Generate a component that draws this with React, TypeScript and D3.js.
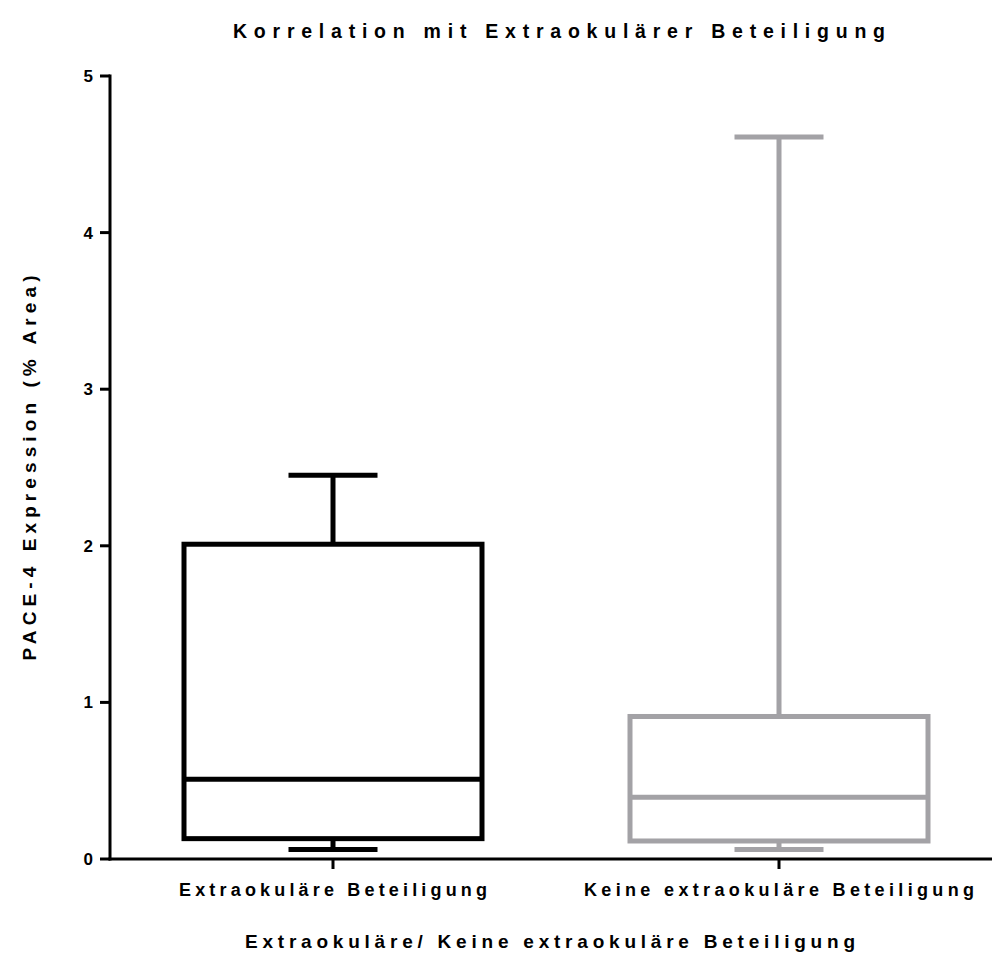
import React from "react";
import * as d3 from "d3";

const categories = ["Extraokuläre Beteiligung", "Keine extraokuläre Beteiligung"];
const minValues = [0.06, 0.06];
const q1Values = [0.13, 0.115];
const medianValues = [0.51, 0.395];
const q3Values = [2.01, 0.91];
const maxValues = [2.45, 4.61];
const colors = ["#000000", "#a3a2a6"];
const yTicks = [0, 1, 2, 3, 4, 5];

const W = 992;
const H = 955;
const font = "'Liberation Sans', Arial, sans-serif";

export default function App() {
  const y = d3.scaleLinear().domain([0, 5]).range([859, 76]);
  const x = d3.scaleBand<string>().domain(categories).range([110, 1002]).padding(0);
  const boxW = 298;
  const capW = 89;
  const sw = 5;
  return (
    <svg width={W} height={H} style={{ position: "absolute", left: 0, top: 0, background: "#fff" }}>
      <text x={559} y={38} textAnchor="middle" fontFamily={font} fontWeight="bold" fontSize={19.5}
        textLength={652} lengthAdjust="spacing">Korrelation mit Extraokulärer Beteiligung</text>
      {categories.map((c, i) => {
        const cx = (x(c) as number) + x.bandwidth() / 2;
        const col = colors[i];
        return (
          <g key={c} stroke={col} strokeWidth={sw} fill="none">
            <line x1={cx} x2={cx} y1={y(maxValues[i])} y2={y(q3Values[i])} />
            <line x1={cx - capW / 2} x2={cx + capW / 2} y1={y(maxValues[i])} y2={y(maxValues[i])} />
            <line x1={cx} x2={cx} y1={y(q1Values[i])} y2={y(minValues[i])} />
            <line x1={cx - capW / 2} x2={cx + capW / 2} y1={y(minValues[i])} y2={y(minValues[i])} />
            <rect x={cx - boxW / 2} y={y(q3Values[i])} width={boxW} height={y(q1Values[i]) - y(q3Values[i])} />
            <line x1={cx - boxW / 2} x2={cx + boxW / 2} y1={y(medianValues[i])} y2={y(medianValues[i])} />
          </g>
        );
      })}
      {/* y axis */}
      <line x1={110} x2={110} y1={y(5) - 1.5} y2={y(0) + 1.5} stroke="#000" strokeWidth={3} />
      {yTicks.map((t) => (
        <g key={t}>
          <line x1={100} x2={110} y1={y(t)} y2={y(t)} stroke="#000" strokeWidth={3} />
          <text x={93} y={y(t) + 6} textAnchor="end" fontFamily={font} fontWeight="bold" fontSize={17}>{t}</text>
        </g>
      ))}
      {/* x axis */}
      <line x1={108.5} x2={992} y1={y(0)} y2={y(0)} stroke="#000" strokeWidth={3} />
      {categories.map((c, i) => {
        const cx = (x(c) as number) + x.bandwidth() / 2;
        return (
          <g key={c}>
            <line x1={cx} x2={cx} y1={y(0)} y2={y(0) + 10} stroke="#000" strokeWidth={3} />
            <text x={cx} y={896} textAnchor="middle" fontFamily={font} fontWeight="bold" fontSize={18}
              textLength={i === 0 ? 308 : 390} lengthAdjust="spacing">{c}</text>
          </g>
        );
      })}
      <text x={550} y={948} textAnchor="middle" fontFamily={font} fontWeight="bold" fontSize={19}
        textLength={610} lengthAdjust="spacing">Extraokuläre/ Keine extraokuläre Beteiligung</text>
      <text transform={`translate(36, 468) rotate(-90)`} textAnchor="middle" fontFamily={font} fontWeight="bold" fontSize={19}
        textLength={385} lengthAdjust="spacing">PACE-4 Expression (% Area)</text>
    </svg>
  );
}
